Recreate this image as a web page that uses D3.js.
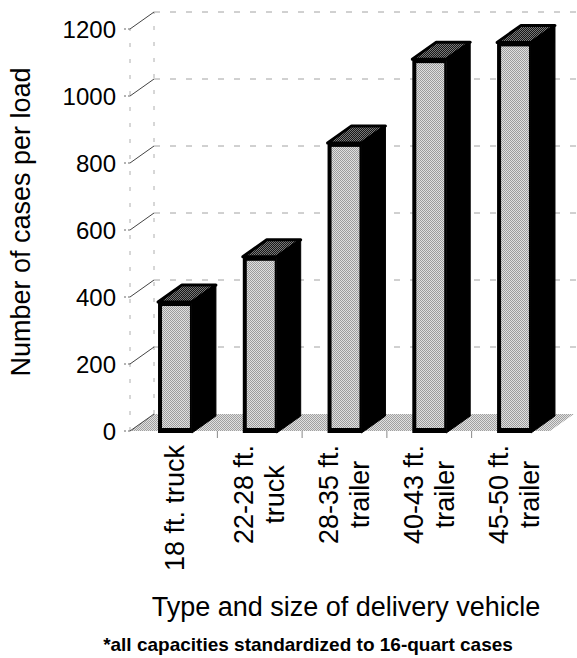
<!DOCTYPE html>
<html>
<head>
<meta charset="utf-8">
<script src="https://cdn.jsdelivr.net/npm/d3@7"></script>
<style>
  body { margin: 0; background: #fff; }
  svg { display: block; }
  text { font-family: "Liberation Sans", Arial, Helvetica, sans-serif; fill: #000; }
</style>
</head>
<body>
<svg id="chart" width="577" height="658"></svg>
<script>
// Vehicle types (line breaks mark the stacked label lines)
const categories = ["18 ft. truck", "22-28 ft.\ntruck", "28-35 ft.\ntrailer", "40-43 ft.\ntrailer", "45-50 ft.\ntrailer"];
// Cases carried per load
const casesPerLoad = [385, 520, 860, 1110, 1160];
const yTicks = [0, 200, 400, 600, 800, 1000, 1200];
const yAxisTitle = "Number of cases per load";
const xAxisTitle = "Type and size of delivery vehicle";
const footnote = "*all capacities standardized to 16-quart cases";

const svg = d3.select("#chart");
const W = 577, H = 658;

// Front plane scales; the back plane is shifted by the depth vector
const y = d3.scaleLinear().domain([0, 1200]).range([431, 29]);
const x = d3.scaleBand().domain(categories)
  .range([132.6, 556.4]).paddingInner(0.6).paddingOuter(0.3);
const depth = { dx: 24, dy: -17 };
const plotLeft = 130, plotRight = 550;

// Checkerboard halftone fills
const defs = svg.append("defs");
function halftone(id, light, dark) {
  const p = defs.append("pattern").attr("id", id)
    .attr("patternUnits", "userSpaceOnUse").attr("width", 2).attr("height", 2);
  p.append("rect").attr("width", 2).attr("height", 2).attr("fill", light);
  p.append("rect").attr("width", 1).attr("height", 1).attr("fill", dark);
  p.append("rect").attr("x", 1).attr("y", 1).attr("width", 1).attr("height", 1).attr("fill", dark);
}
halftone("frontFill", "#e0e0e0", "#9c9c9c");
halftone("floorFill", "#e0e0e0", "#a0a0a0");
halftone("topFill", "#161616", "#7a7a7a");

const y0 = y(0);

// Back wall grid lines (faint, dashed)
svg.append("g").selectAll("line").data(yTicks.slice(1)).join("line")
  .attr("x1", plotLeft + depth.dx).attr("x2", W)
  .attr("y1", d => y(d) + depth.dy).attr("y2", d => y(d) + depth.dy)
  .attr("stroke", "#8a8a8a").attr("stroke-width", 0.8).attr("stroke-dasharray", "6,10");

// Left wall edges
const wall = svg.append("g").attr("stroke", "#999").attr("stroke-width", 0.8).attr("stroke-dasharray", "4,12");
wall.append("line").attr("x1", plotLeft).attr("x2", plotLeft).attr("y1", y0).attr("y2", y(1200));
wall.append("line").attr("x1", plotLeft + depth.dx).attr("x2", plotLeft + depth.dx)
  .attr("y1", y0 + depth.dy).attr("y2", y(1200) + depth.dy);

// Floor
svg.append("polygon")
  .attr("points", [[plotLeft, y0], [plotRight, y0], [plotRight + depth.dx, y0 + depth.dy], [plotLeft + depth.dx, y0 + depth.dy]].join(" "))
  .attr("fill", "url(#floorFill)");

// Tick marks on the left wall
const ticks = svg.append("g");
ticks.selectAll("line.diag").data(yTicks).join("line").attr("class", "diag")
  .attr("x1", plotLeft).attr("y1", d => y(d))
  .attr("x2", plotLeft + depth.dx).attr("y2", d => y(d) + depth.dy)
  .attr("stroke", "#444").attr("stroke-width", 1);
ticks.selectAll("line.stub").data(yTicks).join("line").attr("class", "stub")
  .attr("x1", plotLeft - 6).attr("x2", plotLeft).attr("y1", d => y(d)).attr("y2", d => y(d))
  .attr("stroke", "#666").attr("stroke-width", 1).attr("stroke-dasharray", "2,2");
ticks.selectAll("text").data(yTicks).join("text")
  .attr("x", 116).attr("y", d => y(d)).attr("dy", "0.36em")
  .attr("text-anchor", "end").attr("font-size", 24).text(d => d);

// Category boundary ticks under the floor
const bw = x.bandwidth();
const bounds = categories.slice(1).map((c, i) => (x(categories[i]) + bw + x(c)) / 2);
svg.append("g").selectAll("line").data(bounds).join("line")
  .attr("x1", d => d).attr("x2", d => d).attr("y1", y0).attr("y2", y0 + 7)
  .attr("stroke", "#888").attr("stroke-width", 1);

// Bars: side, top, then front face
const bars = svg.append("g").selectAll("g").data(categories.map((c, i) => ({ c, v: casesPerLoad[i] }))).join("g");
bars.each(function (d) {
  const g = d3.select(this);
  const x0 = x(d.c), x1 = x0 + bw, yt = y(d.v), yb = y0 + 2;
  g.append("polygon")
    .attr("points", [[x1, yt], [x1 + depth.dx, yt + depth.dy], [x1 + depth.dx, yb + depth.dy], [x1, yb]].join(" "))
    .attr("fill", "#000").attr("stroke", "#000").attr("stroke-width", 1);
  g.append("polygon")
    .attr("points", [[x0, yt], [x0 + depth.dx, yt + depth.dy], [x1 + depth.dx, yt + depth.dy], [x1, yt]].join(" "))
    .attr("fill", "url(#topFill)").attr("stroke", "#000").attr("stroke-width", 3).attr("stroke-linejoin", "round");
  g.append("rect").attr("x", x0).attr("y", yt).attr("width", bw).attr("height", yb - yt).attr("fill", "#000");
  g.append("rect").attr("x", x0 + 4).attr("y", yt + 4).attr("width", bw - 6).attr("height", yb - yt - 9)
    .attr("fill", "url(#frontFill)");
});

// Category labels, rotated, lines centred on each other, longest line ending at a common top
const labelTop = 445, lineGap = 31, labelSize = 27;
categories.forEach(c => {
  const lines = c.split("\n");
  const cx = x(c) + bw / 2;
  const g = svg.append("g");
  const items = lines.map((ln, i) => {
    const bx = cx - (lines.length - 1) * lineGap / 2 + i * lineGap + 9;
    const t = g.append("text").attr("font-size", labelSize).attr("text-anchor", "middle").text(ln);
    return { t, bx };
  });
  const maxLen = d3.max(items, d => d.t.node().getComputedTextLength());
  items.forEach(d => d.t.attr("transform", `translate(${d.bx},${labelTop + maxLen / 2}) rotate(-90)`));
});

// Axis titles and footnote
svg.append("text").attr("transform", "translate(30,222) rotate(-90)")
  .attr("text-anchor", "middle").attr("font-size", 27).text(yAxisTitle);
svg.append("text").attr("x", 346).attr("y", 616)
  .attr("text-anchor", "middle").attr("font-size", 27).text(xAxisTitle);
svg.append("text").attr("x", 308).attr("y", 651)
  .attr("text-anchor", "middle").attr("font-size", 19).attr("font-weight", "bold").text(footnote);
</script>
</body>
</html>
